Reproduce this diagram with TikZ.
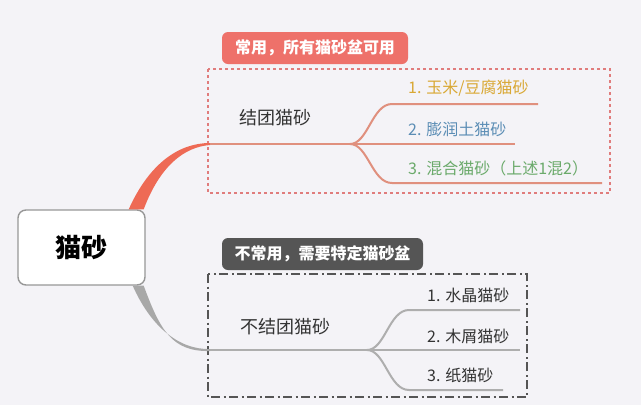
\documentclass[tikz,border=0pt]{standalone}
\usepackage{fontspec}
\setmainfont{Noto Sans CJK SC}
\usetikzlibrary{calc}
\definecolor{bgc}{HTML}{F4F3F7}
\definecolor{redmain}{HTML}{EE6A55}
\definecolor{redsub}{HTML}{E0907E}
\definecolor{redtab}{HTML}{EE716A}
\definecolor{reddot}{HTML}{E07C7C}
\definecolor{graymain}{HTML}{A8A8A8}
\definecolor{graysub}{HTML}{AEAEAE}
\definecolor{graytab}{HTML}{555555}
\definecolor{goldc}{HTML}{D9A834}
\definecolor{bluec}{HTML}{5B8DB5}
\definecolor{greenc}{HTML}{6BAA6B}
\definecolor{textc}{HTML}{333333}
\tikzset{
  rootbox/.style={draw=graymain!90!black, line width=1.4pt, fill=white, rounded corners=8pt,
    minimum width=127pt, minimum height=75pt, inner sep=0pt,
    font=\fontsize{26}{30}\selectfont\bfseries, text=black},
  topic/.style={font=\fontsize{18}{22}\selectfont, text=textc, inner sep=0pt},
  item/.style={font=\fontsize{16}{19}\selectfont, anchor=west, inner sep=0pt},
  tabtext/.style={font=\fontsize{16}{19}\selectfont\bfseries, text=white, inner sep=0pt},
  redline/.style={draw=redsub, line width=2pt},
  grayline/.style={draw=graysub, line width=2pt},
  redframe/.style={draw=reddot, line width=2.6pt, dash pattern=on 2.6pt off 3.4pt},
  grayframe/.style={draw=graytab, line width=1.8pt, dash pattern=on 9pt off 3.5pt on 2pt off 3.5pt},
}
\begin{document}
\begin{tikzpicture}[x=1pt,y=-1pt]
\fill[bgc] (0,0) rectangle (641,405);
\useasboundingbox (0,0) rectangle (641,405);

% tabs and frames
\fill[redtab, rounded corners=6pt] (222,32) rectangle (408,64);
\node[tabtext] (tab1) at (315,48) {常用，所有猫砂盆可用};
\draw[redframe] (208,69) rectangle (610,193);

\fill[graytab, rounded corners=6pt] (222,238) rectangle (423,270);
\node[tabtext] (tab2) at (322.5,254) {不常用，需要特定猫砂盆};
\draw[grayframe] (208,274) rectangle (527,397);

% root
\node[rootbox] (root) at (81.5,247.5) {猫砂};

% red branch
\coordinate (j1) at (210,144);
\coordinate (s1) at (350,144);
\coordinate (e11) at (538,104);
\coordinate (e12) at (515,144);
\coordinate (e13) at (602,183);
\fill[redmain] ($(root.north east)+(-17,0)$) .. controls (150,162) and (180,143) .. ($(j1)+(0,-1)$)
  -- ($(j1)+(0,1)$) .. controls (184,147) and (160,166) .. ($(root.north east)+(-2,0)$) -- cycle;
\draw[redline] (j1) -- (s1) -- (e12);
\draw[redline] (s1) .. controls (368,144) and (372,104) .. (392,104) -- (e11);
\draw[redline] (s1) .. controls (368,144) and (372,183) .. (392,183) -- (e13);

% gray branch
\coordinate (j2) at (210,350);
\coordinate (s2) at (367,350);
\coordinate (e21) at (520,310);
\coordinate (e22) at (520,350);
\coordinate (e23) at (503,390);
\fill[graymain] ($(root.south east)+(-13,0)$) .. controls (150,325) and (178,350) .. ($(j2)+(0,-1)$)
  -- ($(j2)+(0,1)$) .. controls (172,352) and (160,330) .. ($(root.south east)+(-2,0)$) -- cycle;
\draw[grayline] (j2) -- (s2) -- (e22);
\draw[grayline] (s2) .. controls (385,350) and (389,310) .. (409,310) -- (e21);
\draw[grayline] (s2) .. controls (385,350) and (389,390) .. (409,390) -- (e23);

% labels
\node[topic] (t1) at (275.5,118) {结团猫砂};
\node[item, text=goldc] (a1) at (408,88) {1. 玉米/豆腐猫砂};
\node[item, text=bluec] (a2) at (408,129) {2. 膨润土猫砂};
\node[item, text=greenc] (a3) at (408,168) {3. 混合猫砂（上述1混2）};

\node[topic] (t2) at (285,327) {不结团猫砂};
\node[item, text=textc] (b1) at (427,295) {1. 水晶猫砂};
\node[item, text=textc] (b2) at (427,336) {2. 木屑猫砂};
\node[item, text=textc] (b3) at (427,375) {3. 纸猫砂};
\end{tikzpicture}
\end{document}
